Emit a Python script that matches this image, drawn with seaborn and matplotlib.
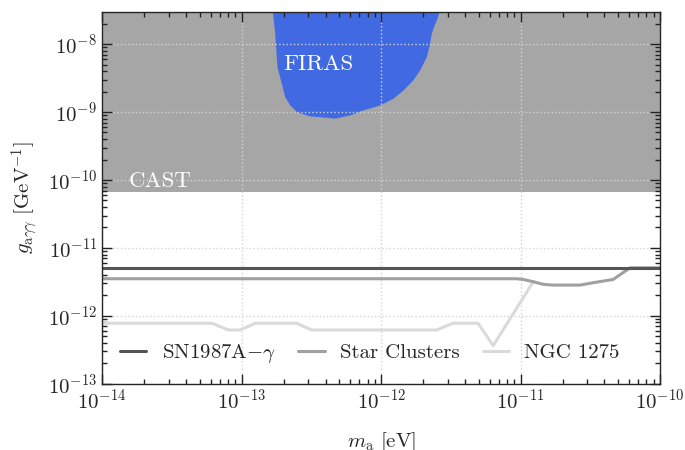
import numpy as np
import pandas as pd
import matplotlib
matplotlib.use("Agg")
import matplotlib.pyplot as plt
import seaborn as sns

# Axion-photon coupling limits vs axion mass
sn_mass = [1e-14, 1e-10]
sn_g = [5.1e-12, 5.1e-12]

star_mass = [1e-14, 9.4e-12, 1.047e-11, 1.236e-11, 1.459e-11, 1.718e-11,
             2.673e-11, 3.327e-11, 4.62e-11, 6.1e-11, 1e-10]
star_g = [3.52e-12, 3.52e-12, 3.44e-12, 3.18e-12, 2.91e-12, 2.84e-12,
          2.84e-12, 3.08e-12, 3.44e-12, 5.1e-12, 5.1e-12]

ngc_mass = [1e-14, 6.13e-14, 8.06e-14, 9.77e-14, 1.254e-13, 2.477e-13,
            3.177e-13, 2.50e-12, 3.289e-12, 4.966e-12, 6.368e-12, 1.236e-11]
ngc_g = [7.8e-13, 7.8e-13, 6.2e-13, 6.2e-13, 7.8e-13, 7.8e-13,
         6.2e-13, 6.2e-13, 7.8e-13, 7.8e-13, 3.65e-13, 3.2e-12]

cast_g = 6.6e-11

firas_mass = [1.679e-13, 1.742e-13, 1.811e-13, 1.914e-13, 2.056e-13, 2.234e-13,
              2.495e-13, 3.105e-13, 4.093e-13, 4.688e-13, 6.012e-13, 7.482e-13,
              9.863e-13, 1.227e-12, 1.449e-12, 1.706e-12, 1.905e-12, 2.128e-12,
              2.249e-12, 2.312e-12, 2.371e-12, 2.535e-12, 2.618e-12, 2.618e-12,
              1.679e-13]
firas_g = [2.904e-8, 1.426e-8, 4.519e-9, 2.931e-9, 1.656e-9, 1.250e-9,
           9.977e-10, 8.610e-10, 8.241e-10, 7.98e-10, 8.913e-10, 1.057e-9,
           1.250e-9, 1.567e-9, 2.075e-9, 2.931e-9, 4.083e-9, 6.397e-9,
           1.007e-8, 1.413e-8, 1.671e-8, 2.344e-8, 2.904e-8, 1e-7,
           1e-7]

labels = ["SN1987A$-\\gamma$", "Star Clusters", "NGC 1275"]
colors = ["#555555", "#a0a0a0", "#dadada"]

sns.set_style("ticks")
plt.rcParams["font.family"] = ["cmr10"]
plt.rcParams["mathtext.fontset"] = "cm"
plt.rcParams["axes.formatter.use_mathtext"] = True
plt.rcParams["axes.unicode_minus"] = False
plt.rcParams["xtick.direction"] = "in"
plt.rcParams["ytick.direction"] = "in"

fig = plt.figure(figsize=(6.85, 4.5), dpi=100)
ax = fig.add_axes([0.149, 0.147, 0.8145, 0.826])
ax.set_xscale("log")
ax.set_yscale("log")

# Excluded regions
ax.fill_between([1e-15, 1e-9], [cast_g, cast_g], [1e-6, 1e-6],
                color="#a6a6a6", lw=0, zorder=1)
ax.fill(firas_mass, firas_g, color="#4169e1", lw=0, zorder=2)

df = pd.concat([
    pd.DataFrame({"m": sn_mass, "g": sn_g, "limit": labels[0]}),
    pd.DataFrame({"m": star_mass, "g": star_g, "limit": labels[1]}),
    pd.DataFrame({"m": ngc_mass, "g": ngc_g, "limit": labels[2]}),
], ignore_index=True)

for lab, col, z in zip(labels, colors, [6, 5, 4]):
    sub = df[df["limit"] == lab]
    sns.lineplot(data=sub, x="m", y="g", color=col, lw=2.2, sort=False,
                 estimator=None, ax=ax, label=lab, zorder=z)

ax.text(1.55e-14, 6.9e-11, "CAST", color="white", fontsize=16.5,
        ha="left", va="bottom", zorder=7)
ax.text(2.0e-13, 5.0e-9, "FIRAS", color="white", fontsize=16.5,
        ha="left", va="center", zorder=7)

ax.set_xlim(1e-14, 1e-10)
ax.set_ylim(1e-13, 2.95e-8)

ax.grid(True, which="major", ls=":", color="#d4d4d4", lw=1.0, zorder=3)
ax.set_axisbelow(False)
ax.tick_params(which="both", top=True, right=True, labelsize=15, width=1.0,
               color="#222222")
ax.tick_params(which="major", length=7)
ax.tick_params(which="minor", length=3.5)
for s in ax.spines.values():
    s.set_linewidth(1.0)
    s.set_zorder(8)

ax.set_xlabel("$m_{\\mathrm{a}}\\ [\\mathrm{eV}]$", fontsize=15, labelpad=12)
ax.set_ylabel("$g_{\\mathrm{a}\\gamma\\gamma}\\ [\\mathrm{GeV}^{-1}]$",
              fontsize=15, labelpad=6)

leg = ax.legend(loc="lower center", ncol=3, frameon=False, fontsize=15,
                handlelength=1.25, columnspacing=1.1, handletextpad=0.75,
                bbox_to_anchor=(0.48, 0.0))
leg.set_zorder(9)

fig.savefig("out.png", dpi=100)
